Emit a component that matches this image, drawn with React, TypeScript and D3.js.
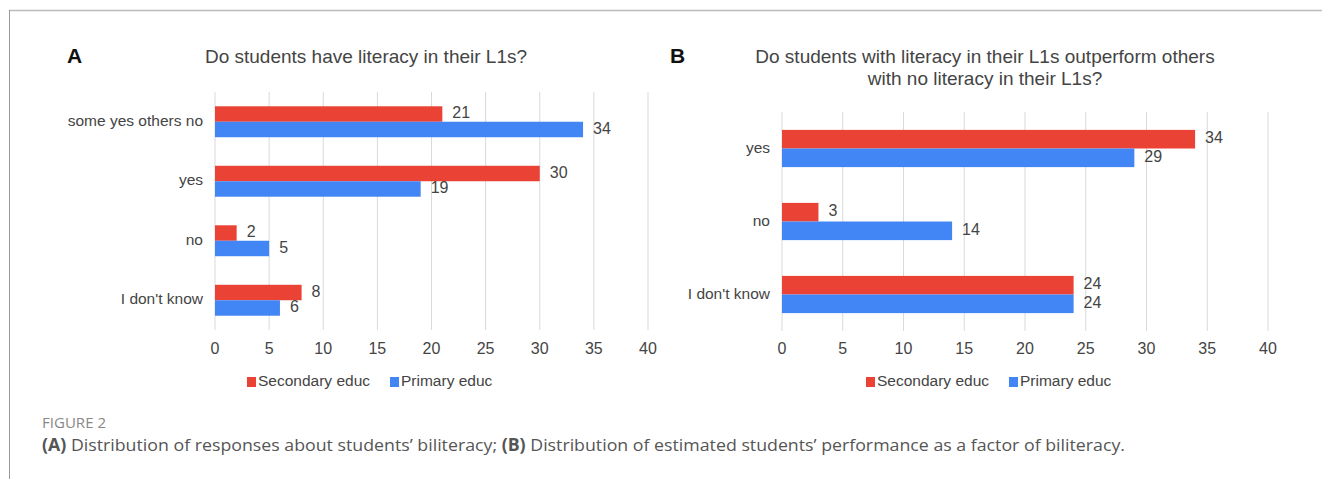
import * as d3 from "d3";

const seriesNames = ["Secondary educ", "Primary educ"];
const seriesColors = ["#EA4335", "#4285F4"];

const catsA = ["some yes others no", "yes", "no", "I don't know"];
const secondaryA = [21, 30, 2, 8];
const primaryA = [34, 19, 5, 6];

const catsB = ["yes", "no", "I don't know"];
const secondaryB = [34, 3, 24];
const primaryB = [29, 14, 24];

const xTicks = [0, 5, 10, 15, 20, 25, 30, 35, 40];

const FONT = "'Liberation Sans', Arial, sans-serif";
const TEXT = "#444";

interface PanelProps {
  letter: string;
  letterX: number;
  title: string[];
  titleX: number;
  cats: string[];
  values: number[][];
  x0: number;
  x1: number;
  top: number;
  bottom: number;
  groupPad: number;
  legendX: number;
}

function Panel(p: PanelProps) {
  const x = d3.scaleLinear().domain([0, 40]).range([p.x0, p.x1]);
  const y = d3.scaleBand<string>().domain(p.cats).range([p.top, p.bottom]).paddingInner(p.groupPad).paddingOuter(p.groupPad / 2);
  const inner = d3.scaleBand<number>().domain([0, 1]).range([0, y.bandwidth()]);
  return (
    <g fontFamily={FONT}>
      <text x={p.letterX} y={57} fontSize={21} fontWeight="bold" fill="#111" dominantBaseline="middle">
        {p.letter}
      </text>
      {p.title.map((t, i) => (
        <text key={i} x={p.titleX} y={58 + i * 22} fontSize={19} fill={TEXT} textAnchor="middle" dominantBaseline="middle">
          {t}
        </text>
      ))}
      {xTicks.map((t) => (
        <g key={t}>
          <line x1={x(t)} x2={x(t)} y1={p.top} y2={p.bottom} stroke="#d9d9d9" strokeWidth={1} />
          <text x={x(t)} y={350} fontSize={16} fill={TEXT} textAnchor="middle" dominantBaseline="middle">
            {t}
          </text>
        </g>
      ))}
      {p.cats.map((c, ci) => (
        <g key={c}>
          <text x={p.x0 - 12} y={y(c)! + y.bandwidth() / 2} fontSize={15.5} fill={TEXT} textAnchor="end" dominantBaseline="middle">
            {c}
          </text>
          {p.values.map((vals, si) => {
            const by = y(c)! + inner(si)!;
            const v = vals[ci];
            return (
              <g key={si}>
                <rect x={x(0)} y={by} width={x(v) - x(0)} height={inner.bandwidth()} fill={seriesColors[si]} />
                <text x={x(v) + 10} y={by + inner.bandwidth() / 2} fontSize={16} fill={TEXT} dominantBaseline="middle">
                  {v}
                </text>
              </g>
            );
          })}
        </g>
      ))}
      {seriesNames.map((s, i) => (
        <g key={s} transform={`translate(${p.legendX + i * 143},382)`}>
          <rect x={0} y={-5} width={9} height={10} fill={seriesColors[i]} />
          <text x={11} y={0} fontSize={15.5} fill={TEXT} dominantBaseline="middle">
            {s}
          </text>
        </g>
      ))}
    </g>
  );
}

export default function App() {
  return (
    <svg width={1322} height={479} style={{ display: "block", position: "absolute", left: 0, top: 0 }}>
      <rect width={1322} height={479} fill="#fff" />
      <line x1={9} x2={1322} y1={10.5} y2={10.5} stroke="#bbb" strokeWidth={1.5} />
      <line x1={9.5} x2={9.5} y1={10} y2={479} stroke="#999" strokeWidth={1} />
      <Panel
        letter="A"
        letterX={67}
        title={["Do students have literacy in their L1s?"]}
        titleX={366}
        cats={catsA}
        values={[secondaryA, primaryA]}
        x0={215}
        x1={648}
        top={92}
        bottom={330}
        groupPad={0.48}
        legendX={247}
      />
      <Panel
        letter="B"
        letterX={670}
        title={["Do students with literacy in their L1s outperform others", "with no literacy in their L1s?"]}
        titleX={985}
        cats={catsB}
        values={[secondaryB, primaryB]}
        x0={782}
        x1={1268}
        top={112}
        bottom={331}
        groupPad={0.49}
        legendX={866}
      />
      <text x={42} y={424} fontFamily="'Open Sans', sans-serif" fontSize={14} fill="#888" dominantBaseline="middle" textLength={64} lengthAdjust="spacingAndGlyphs">
        FIGURE 2
      </text>
      <text x={42} y={446} fontFamily="'Open Sans', sans-serif" fontSize={17} fill="#555" dominantBaseline="middle" textLength={1083} lengthAdjust="spacingAndGlyphs">
        <tspan fontWeight="bold">(A)</tspan> Distribution of responses about students’ biliteracy; <tspan fontWeight="bold">(B)</tspan> Distribution of estimated students’ performance as a factor of biliteracy.
      </text>
    </svg>
  );
}
